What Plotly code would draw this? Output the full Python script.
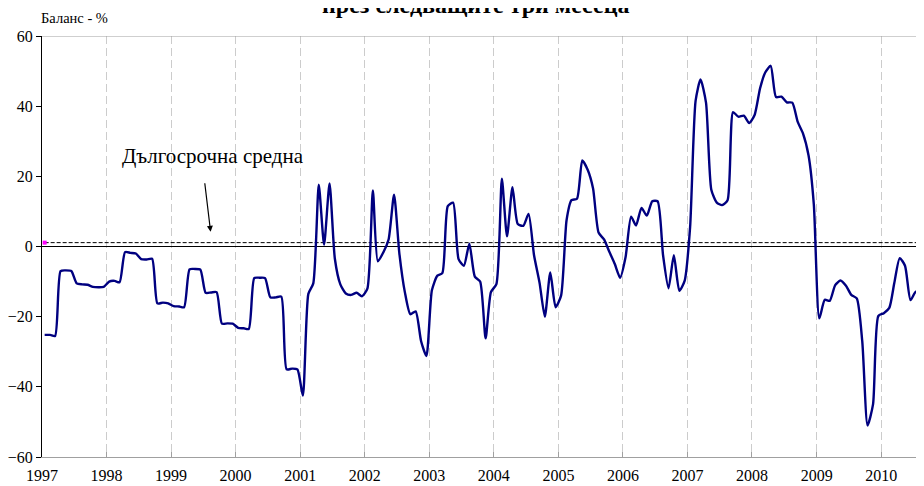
import pandas as pd
import plotly.graph_objects as go

# ---------------- data ----------------
start_month = "1997-01-01"
balance = [
    -25.2, -25.2, -25.5, -7.0, -6.8, -7.0, -10.5, -10.8, -10.9, -11.5, -11.6, -11.5,   # 1997
    -10.0, -9.8, -10.2, -1.6, -1.8, -2.0, -3.6, -3.7, -3.5, -16.2, -16.0, -16.2,       # 1998
    -17.0, -17.1, -17.3, -6.5, -6.4, -6.6, -13.2, -13.1, -13.0, -22.0, -21.9, -22.0,   # 1999
    -23.2, -23.3, -23.5, -9.0, -8.9, -9.0, -14.5, -14.5, -14.3, -35.0, -34.8, -35.0,   # 2000
    -42.5, -13.5, -10.5, 17.6, 0.5, 18.0, -3.5, -10.8, -13.4, -13.8, -13.2, -14.2,     # 2001
    -12.0, 16.0, -4.2, -1.7, 2.0, 14.8, -2.0, -13.0, -19.3, -18.5, -27.0, -31.2,       # 2002
    -12.5, -8.3, -7.6, 11.5, 12.5, -3.6, -5.5, 0.8, -8.6, -10.0, -26.2, -13.0,         # 2003
    -10.7, 19.3, 2.9, 16.9, 6.4, 5.9, 9.3, -2.5, -10.3, -20.0, -7.4, -17.3,            # 2004
    -14.0, 7.5, 13.2, 13.6, 24.5, 21.8, 16.5, 4.0, 2.0, -1.5, -5.0, -8.9,              # 2005
    -3.0, 8.5, 6.0, 11.0, 8.8, 12.9, 12.9, -2.5, -11.9, -2.5, -12.6, -9.8,             # 2006
    5.5, 41.5, 47.6, 41.0, 16.2, 12.5, 11.8, 13.2, 38.3, 37.0, 37.3, 35.2,             # 2007
    37.5, 45.1, 49.6, 51.5, 42.6, 42.7, 41.1, 41.0, 35.5, 32.2, 26.0, 12.0,            # 2008
    -20.5, -15.2, -15.5, -11.0, -9.7, -11.2, -13.8, -14.8, -27.0, -51.0, -45.0, -19.8, # 2009
    -19.0, -17.5, -10.5, -3.3, -5.5, -15.3, -12.9, -13.8, -15.0,                       # 2010
]
long_term_average = 1.1
years = list(range(1997, 2011))
tick_labels = [str(y) for y in years]
y_ticks = [-60, -40, -20, 0, 20, 40, 60]

title_text = "през следващите три месеца"
y_title = "Баланс - %"
avg_label = "Дългосрочна средна"

# ---------------- build ----------------
dates = pd.date_range(start_month, periods=len(balance), freq="MS") + pd.Timedelta(days=15)
x_dates = [d.strftime("%Y-%m-%d") for d in dates]
tick_dates = [f"{y}-01-01" for y in years]

def frac_date(yr):
    return (pd.Timestamp("1997-01-01") + pd.Timedelta(days=(yr - 1997) * 365.25)).strftime("%Y-%m-%d %H:%M")

x_start = "1997-01-01"
x_end = frac_date(2010.663)

SERIF = "Liberation Serif"

fig = go.Figure()

# long-term average (dashed)
fig.add_trace(go.Scatter(
    x=[x_dates[0], x_dates[-1]], y=[long_term_average, long_term_average],
    mode="lines", line=dict(color="black", width=1, dash="4px,2px"),
    hoverinfo="skip", showlegend=False))
fig.add_trace(go.Scatter(
    x=[x_dates[0]], y=[long_term_average], mode="markers",
    marker=dict(color="#ff00ff", size=4, symbol="square"),
    showlegend=False, hoverinfo="skip"))

# main series
fig.add_trace(go.Scatter(
    x=x_dates, y=balance, mode="lines",
    line=dict(color="#000080", width=2.4, shape="spline", smoothing=0.6),
    showlegend=False))

# page body has an 8px margin, so the figure is sized/offset to compensate
fig.update_layout(
    width=916, height=478,
    margin=dict(l=32, r=0, t=28, b=29),
    paper_bgcolor="white", plot_bgcolor="white",
    font=dict(family=SERIF, size=16, color="black"),
    showlegend=False,
)

fig.update_xaxes(
    type="date", range=[x_start, x_end],
    tickmode="array", tickvals=tick_dates, ticktext=tick_labels,
    ticks="inside", ticklen=5, tickcolor="#a0a0a0", tickwidth=1,
    showline=True, linecolor="#a0a0a0", linewidth=1,
    showgrid=True, gridcolor="#cccccc", gridwidth=1, griddash="8px,4px",
    ticklabelstandoff=4,
    tickfont=dict(family=SERIF, size=16, color="black"),
    zeroline=False,
)
fig.update_yaxes(
    range=[-60, 60], tickmode="array", tickvals=y_ticks,
    ticks="outside", ticklen=5, tickcolor="black", tickwidth=1,
    showline=True, linecolor="black", linewidth=1,
    showgrid=False,
    zeroline=True, zerolinecolor="black", zerolinewidth=1.3,
    tickfont=dict(family=SERIF, size=16, color="black"),
)

# top border line at 60
fig.add_shape(type="line", xref="paper", yref="y", x0=0, x1=1, y0=60, y1=60,
              line=dict(color="#a0a0a0", width=1))

# y axis title
fig.add_annotation(text=y_title, xref="paper", yref="paper",
                   x=-3 / 884, y=1 + 18 / 421, xanchor="left", yanchor="middle",
                   showarrow=False, font=dict(family=SERIF, size=14.5, color="black"))

# cut-off chart title
fig.add_annotation(text="<b>" + title_text + "</b>", xref="paper", yref="paper",
                   x=(475 - 40) / 884, y=1 + 16 / 421, xanchor="center", yanchor="bottom",
                   showarrow=False, font=dict(family=SERIF, size=24, color="black"))

# long-term average label + arrow
fig.add_annotation(text=avg_label, x=frac_date(1999.643), y=25.9, xref="x", yref="y",
                   xanchor="center", yanchor="middle", showarrow=False,
                   font=dict(family=SERIF, size=21, color="black"))
fig.add_annotation(text="", x=frac_date(1999.612), y=4.2, xref="x", yref="y",
                   ax=-6, ay=-50, showarrow=True, arrowhead=2, arrowsize=1,
                   arrowwidth=1.2, arrowcolor="black")

fig.write_html("out.html")
